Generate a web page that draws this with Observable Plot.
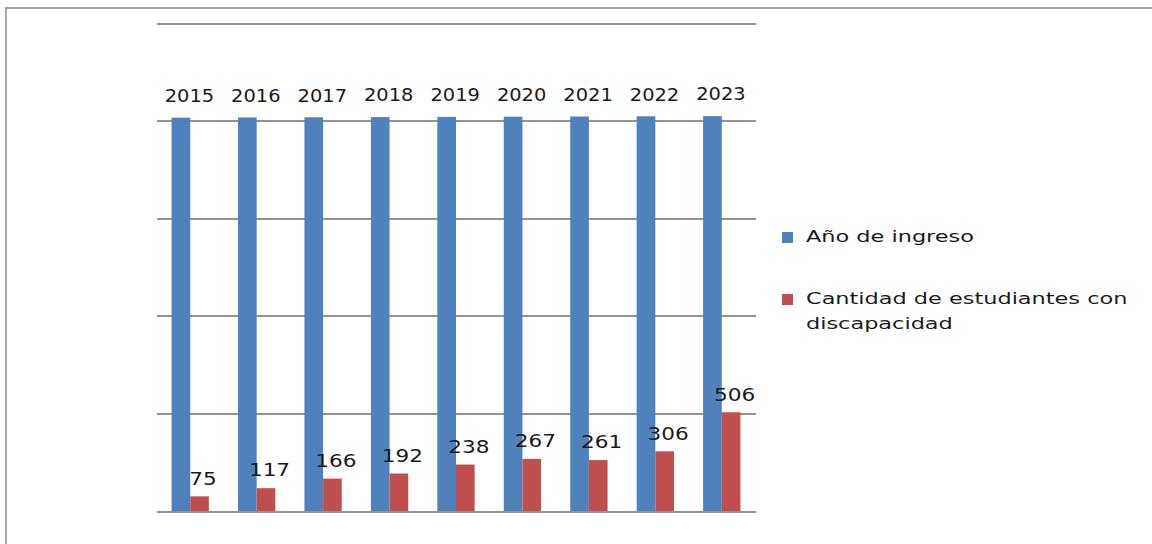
<!DOCTYPE html>
<html>
<head>
<meta charset="utf-8">
<script src="https://cdn.jsdelivr.net/npm/d3@7"></script>
<script src="https://cdn.jsdelivr.net/npm/@observablehq/plot@0.6"></script>
<style>
  html, body { margin: 0; padding: 0; background: #fff; overflow: hidden; }
  #wrap { position: relative; width: 1152px; height: 544px; }
  #frame { position: absolute; left: 5px; top: 7px; width: 1200px; height: 600px; border: 2px solid #a6a6a6; box-sizing: border-box; }
  #legend { position: absolute; left: 782px; top: 224px; font-family: "DejaVu Sans", sans-serif; font-size: 16px; color: #1a1a1a; line-height: 25px; }
  .item { position: relative; padding-left: 24px; }
  .txt { display: inline-block; transform: scaleX(1.4); transform-origin: 0 0; white-space: nowrap; }
  .sw { position: absolute; left: 0; top: 8px; width: 11px; height: 11px; }
</style>
</head>
<body>
<div id="wrap">
  <div id="frame"></div>
  <div id="chart"></div>
  <div id="legend"></div>
</div>
<script>
const years = ["2015", "2016", "2017", "2018", "2019", "2020", "2021", "2022", "2023"];
const ingreso = [2015, 2016, 2017, 2018, 2019, 2020, 2021, 2022, 2023];
const discapacidad = [75, 117, 166, 192, 238, 267, 261, 306, 506];
const seriesNames = ["Año de ingreso", "Cantidad de estudiantes con discapacidad"];
const legendLines = [["Año de ingreso"], ["Cantidad de estudiantes con", "discapacidad"]];
const seriesColors = ["#4F81BD", "#C0504D"];
const gridTicks = [0, 500, 1000, 1500, 2000, 2500];

const blueRows = years.map((y, i) => ({year: y, series: seriesNames[0], value: ingreso[i], label: years[i]}));
const redRows = years.map((y, i) => ({year: y, series: seriesNames[1], value: discapacidad[i], label: String(discapacidad[i])}));
const rows = blueRows.concat(redRows);

const chart = Plot.plot({
  width: 1152,
  height: 544,
  marginLeft: 157,
  marginRight: 397,
  marginTop: 23,
  marginBottom: 33,
  style: {background: "transparent", fontFamily: "DejaVu Sans, sans-serif"},
  fx: {domain: years, padding: 0, round: false, axis: null},
  x: {domain: seriesNames, paddingInner: 0, paddingOuter: 0.78, round: false, axis: null},
  y: {domain: [0, 2500], axis: null},
  color: {domain: seriesNames, range: seriesColors},
  marks: [
    Plot.ruleY(gridTicks, {stroke: "#939393", strokeWidth: 2, shapeRendering: "crispEdges", insetLeft: -0.5, insetRight: -1}),
    Plot.barY(rows, {fx: "year", x: "series", y: "value", fill: "series", inset: 0}),
    Plot.text(blueRows, {fx: "year", x: "series", y: "value", text: "label", dy: -22, dx: 8, fontSize: 18, fill: "#1a1a1a"}),
    Plot.text(redRows, {fx: "year", x: "series", y: "value", text: "label", dy: -18, dx: 3, fontSize: 18, fill: "#1a1a1a"})
  ]
});
document.getElementById("chart").appendChild(chart);
const textGroups = chart.querySelectorAll('g[aria-label="text"]');
const stretch = [1.08, 1.2];
textGroups.forEach((g, gi) => {
  const s = stretch[Math.min(gi, stretch.length - 1)];
  g.querySelectorAll("text").forEach(t => {
    const tr = t.getAttribute("transform") || "";
    t.setAttribute("transform", tr + ` scale(${s},1)`);
  });
});

const legend = document.getElementById("legend");
seriesNames.forEach((name, i) => {
  const d = document.createElement("div");
  d.className = "item";
  d.style.width = "330px";
  d.style.marginBottom = i === 0 ? "37px" : "0";
  const sw = document.createElement("span");
  sw.className = "sw";
  sw.style.background = seriesColors[i];
  d.appendChild(sw);
  legendLines[i].forEach(line => {
    const row = document.createElement("div");
    const t = document.createElement("span");
    t.className = "txt";
    t.textContent = line;
    row.appendChild(t);
    d.appendChild(row);
  });
  legend.appendChild(d);
});
</script>
</body>
</html>
